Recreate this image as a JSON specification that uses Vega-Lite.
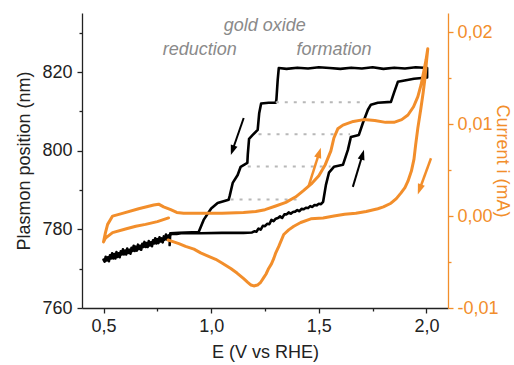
{
  "$schema": "https://vega.github.io/schema/vega-lite/v6.json",
  "width": 366,
  "height": 295,
  "autosize": {"type": "none"},
  "padding": {"left": 82, "top": 13, "right": 66, "bottom": 57},
  "config": {
    "view": {"stroke": null},
    "font": "Liberation Sans",
    "axis": {
      "grid": false,
      "labelFont": "Liberation Sans",
      "titleFont": "Liberation Sans",
      "labelFontSize": 18,
      "titleFontSize": 18,
      "titleFontWeight": "normal",
      "domainColor": "#222222",
      "tickColor": "#222222",
      "labelColor": "#222222",
      "titleColor": "#222222",
      "domainWidth": 1.3,
      "tickWidth": 1.3
    }
  },
  "datasets": {
    "plasmon": [
      {"i": 1, "E": 0.500, "nm": 772.3}, {"i": 2, "E": 0.505, "nm": 771.8}, {"i": 3, "E": 0.510, "nm": 773.0}, {"i": 4, "E": 0.515, "nm": 772.1},
      {"i": 5, "E": 0.520, "nm": 772.9}, {"i": 6, "E": 0.525, "nm": 771.9}, {"i": 7, "E": 0.530, "nm": 773.4}, {"i": 8, "E": 0.535, "nm": 772.6},
      {"i": 9, "E": 0.540, "nm": 773.9}, {"i": 10, "E": 0.545, "nm": 772.6}, {"i": 11, "E": 0.550, "nm": 773.7}, {"i": 12, "E": 0.555, "nm": 772.6},
      {"i": 13, "E": 0.560, "nm": 774.2}, {"i": 14, "E": 0.565, "nm": 773.0}, {"i": 15, "E": 0.570, "nm": 773.9}, {"i": 16, "E": 0.575, "nm": 772.9},
      {"i": 17, "E": 0.580, "nm": 774.4}, {"i": 18, "E": 0.585, "nm": 773.6}, {"i": 19, "E": 0.590, "nm": 774.9}, {"i": 20, "E": 0.595, "nm": 773.6},
      {"i": 21, "E": 0.600, "nm": 774.6}, {"i": 22, "E": 0.605, "nm": 773.6}, {"i": 23, "E": 0.610, "nm": 775.1}, {"i": 24, "E": 0.615, "nm": 774.0},
      {"i": 25, "E": 0.620, "nm": 774.8}, {"i": 26, "E": 0.625, "nm": 773.8}, {"i": 27, "E": 0.630, "nm": 775.3}, {"i": 28, "E": 0.635, "nm": 774.5},
      {"i": 29, "E": 0.640, "nm": 775.8}, {"i": 30, "E": 0.645, "nm": 774.5}, {"i": 31, "E": 0.650, "nm": 775.6}, {"i": 32, "E": 0.655, "nm": 774.6},
      {"i": 33, "E": 0.660, "nm": 776.1}, {"i": 34, "E": 0.665, "nm": 775.0}, {"i": 35, "E": 0.670, "nm": 775.8}, {"i": 36, "E": 0.675, "nm": 774.8},
      {"i": 37, "E": 0.680, "nm": 776.3}, {"i": 38, "E": 0.685, "nm": 775.5}, {"i": 39, "E": 0.690, "nm": 776.8}, {"i": 40, "E": 0.695, "nm": 775.5},
      {"i": 41, "E": 0.700, "nm": 776.5}, {"i": 42, "E": 0.705, "nm": 775.5}, {"i": 43, "E": 0.710, "nm": 777.0}, {"i": 44, "E": 0.715, "nm": 775.9},
      {"i": 45, "E": 0.720, "nm": 776.7}, {"i": 46, "E": 0.725, "nm": 775.7}, {"i": 47, "E": 0.730, "nm": 777.2}, {"i": 48, "E": 0.735, "nm": 776.4},
      {"i": 49, "E": 0.740, "nm": 777.7}, {"i": 50, "E": 0.745, "nm": 776.4}, {"i": 51, "E": 0.750, "nm": 777.5}, {"i": 52, "E": 0.755, "nm": 776.5},
      {"i": 53, "E": 0.760, "nm": 778.0}, {"i": 54, "E": 0.765, "nm": 776.9}, {"i": 55, "E": 0.770, "nm": 777.7}, {"i": 56, "E": 0.775, "nm": 776.7},
      {"i": 57, "E": 0.780, "nm": 778.2}, {"i": 58, "E": 0.785, "nm": 777.4}, {"i": 59, "E": 0.790, "nm": 778.7}, {"i": 60, "E": 0.795, "nm": 777.4},
      {"i": 61, "E": 0.800, "nm": 778.4}, {"i": 62, "E": 0.810, "nm": 778.6}, {"i": 63, "E": 0.820, "nm": 778.9}, {"i": 64, "E": 0.840, "nm": 778.8},
      {"i": 65, "E": 0.860, "nm": 779.0}, {"i": 66, "E": 0.950, "nm": 779.0}, {"i": 67, "E": 1.050, "nm": 779.1}, {"i": 68, "E": 1.150, "nm": 779.1},
      {"i": 69, "E": 1.190, "nm": 779.2}, {"i": 70, "E": 1.200, "nm": 779.5}, {"i": 71, "E": 1.210, "nm": 779.4}, {"i": 72, "E": 1.220, "nm": 780.2},
      {"i": 73, "E": 1.230, "nm": 779.9}, {"i": 74, "E": 1.240, "nm": 780.9}, {"i": 75, "E": 1.250, "nm": 780.8}, {"i": 76, "E": 1.260, "nm": 781.4},
      {"i": 77, "E": 1.270, "nm": 781.3}, {"i": 78, "E": 1.280, "nm": 782.4}, {"i": 79, "E": 1.290, "nm": 782.1}, {"i": 80, "E": 1.300, "nm": 782.7},
      {"i": 81, "E": 1.310, "nm": 782.9}, {"i": 82, "E": 1.320, "nm": 783.3}, {"i": 83, "E": 1.330, "nm": 782.9}, {"i": 84, "E": 1.340, "nm": 783.8},
      {"i": 85, "E": 1.350, "nm": 783.8}, {"i": 86, "E": 1.360, "nm": 784.3}, {"i": 87, "E": 1.370, "nm": 784.0}, {"i": 88, "E": 1.380, "nm": 784.4},
      {"i": 89, "E": 1.390, "nm": 784.5}, {"i": 90, "E": 1.400, "nm": 784.9}, {"i": 91, "E": 1.410, "nm": 784.6}, {"i": 92, "E": 1.420, "nm": 785.2},
      {"i": 93, "E": 1.430, "nm": 785.1}, {"i": 94, "E": 1.440, "nm": 785.5}, {"i": 95, "E": 1.450, "nm": 785.4}, {"i": 96, "E": 1.460, "nm": 785.9},
      {"i": 97, "E": 1.470, "nm": 785.7}, {"i": 98, "E": 1.480, "nm": 786.2}, {"i": 99, "E": 1.490, "nm": 786.1}, {"i": 100, "E": 1.500, "nm": 786.5},
      {"i": 101, "E": 1.510, "nm": 786.4}, {"i": 102, "E": 1.520, "nm": 787.0}, {"i": 103, "E": 1.533, "nm": 791.3}, {"i": 104, "E": 1.547, "nm": 794.4},
      {"i": 105, "E": 1.570, "nm": 795.9}, {"i": 106, "E": 1.612, "nm": 796.4}, {"i": 107, "E": 1.635, "nm": 800.2}, {"i": 108, "E": 1.649, "nm": 803.5},
      {"i": 109, "E": 1.686, "nm": 804.0}, {"i": 110, "E": 1.705, "nm": 807.1}, {"i": 111, "E": 1.728, "nm": 810.4}, {"i": 112, "E": 1.742, "nm": 811.7},
      {"i": 113, "E": 1.774, "nm": 812.2}, {"i": 114, "E": 1.835, "nm": 812.4}, {"i": 115, "E": 1.849, "nm": 814.7}, {"i": 116, "E": 1.867, "nm": 817.5},
      {"i": 117, "E": 1.942, "nm": 818.3}, {"i": 118, "E": 2.003, "nm": 818.6}, {"i": 119, "E": 2.003, "nm": 821.0}, {"i": 120, "E": 1.950, "nm": 821.2},
      {"i": 121, "E": 1.900, "nm": 820.9}, {"i": 122, "E": 1.850, "nm": 821.1}, {"i": 123, "E": 1.800, "nm": 820.8}, {"i": 124, "E": 1.750, "nm": 821.2},
      {"i": 125, "E": 1.700, "nm": 820.9}, {"i": 126, "E": 1.650, "nm": 821.1}, {"i": 127, "E": 1.600, "nm": 820.8}, {"i": 128, "E": 1.550, "nm": 821.0},
      {"i": 129, "E": 1.500, "nm": 821.2}, {"i": 130, "E": 1.450, "nm": 820.9}, {"i": 131, "E": 1.400, "nm": 821.1}, {"i": 132, "E": 1.350, "nm": 820.8},
      {"i": 133, "E": 1.314, "nm": 821.0}, {"i": 134, "E": 1.309, "nm": 818.0}, {"i": 135, "E": 1.303, "nm": 813.0}, {"i": 136, "E": 1.300, "nm": 812.2},
      {"i": 137, "E": 1.267, "nm": 812.2}, {"i": 138, "E": 1.232, "nm": 812.0}, {"i": 139, "E": 1.223, "nm": 809.5}, {"i": 140, "E": 1.216, "nm": 805.3},
      {"i": 141, "E": 1.193, "nm": 804.0}, {"i": 142, "E": 1.176, "nm": 803.0}, {"i": 143, "E": 1.170, "nm": 799.0}, {"i": 144, "E": 1.168, "nm": 796.9},
      {"i": 145, "E": 1.137, "nm": 795.9}, {"i": 146, "E": 1.123, "nm": 793.8}, {"i": 147, "E": 1.100, "nm": 791.8}, {"i": 148, "E": 1.086, "nm": 788.5},
      {"i": 149, "E": 1.081, "nm": 787.5}, {"i": 150, "E": 1.030, "nm": 786.7}, {"i": 151, "E": 1.000, "nm": 785.3}, {"i": 152, "E": 0.965, "nm": 782.4},
      {"i": 153, "E": 0.942, "nm": 779.3}, {"i": 154, "E": 0.850, "nm": 779.1}, {"i": 155, "E": 0.810, "nm": 779.0}, {"i": 156, "E": 0.807, "nm": 776.0}
    ],
    "cv": [
      {"i": 1, "E": 0.802, "I": -0.0002}, {"i": 2, "E": 0.750, "I": -0.0006}, {"i": 3, "E": 0.695, "I": -0.0009}, {"i": 4, "E": 0.650, "I": -0.0011},
      {"i": 5, "E": 0.602, "I": -0.0014}, {"i": 6, "E": 0.542, "I": -0.0018}, {"i": 7, "E": 0.509, "I": -0.0024}, {"i": 8, "E": 0.500, "I": -0.0028},
      {"i": 9, "E": 0.509, "I": -0.0018}, {"i": 10, "E": 0.519, "I": -0.0009}, {"i": 11, "E": 0.542, "I": 0.0000}, {"i": 12, "E": 0.588, "I": 0.0003},
      {"i": 13, "E": 0.663, "I": 0.0008}, {"i": 14, "E": 0.733, "I": 0.0012}, {"i": 15, "E": 0.756, "I": 0.0013}, {"i": 16, "E": 0.779, "I": 0.0010},
      {"i": 17, "E": 0.812, "I": 0.0007}, {"i": 18, "E": 0.840, "I": 0.0004}, {"i": 19, "E": 0.872, "I": 0.0003}, {"i": 20, "E": 0.950, "I": 0.0003},
      {"i": 21, "E": 1.050, "I": 0.0003}, {"i": 22, "E": 1.150, "I": 0.0004}, {"i": 23, "E": 1.207, "I": 0.0005}, {"i": 24, "E": 1.250, "I": 0.0007},
      {"i": 25, "E": 1.300, "I": 0.0011}, {"i": 26, "E": 1.347, "I": 0.0015}, {"i": 27, "E": 1.393, "I": 0.0021}, {"i": 28, "E": 1.430, "I": 0.0028},
      {"i": 29, "E": 1.465, "I": 0.0035}, {"i": 30, "E": 1.500, "I": 0.0044}, {"i": 31, "E": 1.530, "I": 0.0056}, {"i": 32, "E": 1.556, "I": 0.0071},
      {"i": 33, "E": 1.570, "I": 0.0085}, {"i": 34, "E": 1.588, "I": 0.0095}, {"i": 35, "E": 1.612, "I": 0.0099}, {"i": 36, "E": 1.660, "I": 0.0103},
      {"i": 37, "E": 1.709, "I": 0.0105}, {"i": 38, "E": 1.760, "I": 0.0104}, {"i": 39, "E": 1.810, "I": 0.0102}, {"i": 40, "E": 1.849, "I": 0.0102},
      {"i": 41, "E": 1.885, "I": 0.0105}, {"i": 42, "E": 1.914, "I": 0.0110}, {"i": 43, "E": 1.940, "I": 0.0119}, {"i": 44, "E": 1.960, "I": 0.0130},
      {"i": 45, "E": 1.975, "I": 0.0143}, {"i": 46, "E": 1.988, "I": 0.0158}, {"i": 47, "E": 1.998, "I": 0.0170}, {"i": 48, "E": 2.006, "I": 0.0182},
      {"i": 49, "E": 2.000, "I": 0.0168}, {"i": 50, "E": 1.993, "I": 0.0150}, {"i": 51, "E": 1.985, "I": 0.0135}, {"i": 52, "E": 1.974, "I": 0.0117},
      {"i": 53, "E": 1.960, "I": 0.0096}, {"i": 54, "E": 1.950, "I": 0.0078}, {"i": 55, "E": 1.942, "I": 0.0062}, {"i": 56, "E": 1.930, "I": 0.0049},
      {"i": 57, "E": 1.914, "I": 0.0038}, {"i": 58, "E": 1.900, "I": 0.0031}, {"i": 59, "E": 1.881, "I": 0.0025}, {"i": 60, "E": 1.860, "I": 0.0019},
      {"i": 61, "E": 1.835, "I": 0.0014}, {"i": 62, "E": 1.800, "I": 0.0010}, {"i": 63, "E": 1.774, "I": 0.0008}, {"i": 64, "E": 1.720, "I": 0.0005},
      {"i": 65, "E": 1.672, "I": 0.0003}, {"i": 66, "E": 1.620, "I": 0.0002}, {"i": 67, "E": 1.570, "I": 0.0000}, {"i": 68, "E": 1.520, "I": -0.0002},
      {"i": 69, "E": 1.463, "I": -0.0003}, {"i": 70, "E": 1.416, "I": -0.0007}, {"i": 71, "E": 1.384, "I": -0.0011}, {"i": 72, "E": 1.360, "I": -0.0015},
      {"i": 73, "E": 1.337, "I": -0.0020}, {"i": 74, "E": 1.314, "I": -0.0033}, {"i": 75, "E": 1.300, "I": -0.0040}, {"i": 76, "E": 1.291, "I": -0.0046},
      {"i": 77, "E": 1.280, "I": -0.0052}, {"i": 78, "E": 1.267, "I": -0.0057}, {"i": 79, "E": 1.255, "I": -0.0063}, {"i": 80, "E": 1.244, "I": -0.0067},
      {"i": 81, "E": 1.230, "I": -0.0072}, {"i": 82, "E": 1.215, "I": -0.0075}, {"i": 83, "E": 1.198, "I": -0.0076}, {"i": 84, "E": 1.185, "I": -0.0075},
      {"i": 85, "E": 1.170, "I": -0.0072}, {"i": 86, "E": 1.151, "I": -0.0068}, {"i": 87, "E": 1.120, "I": -0.0062}, {"i": 88, "E": 1.091, "I": -0.0057},
      {"i": 89, "E": 1.050, "I": -0.0051}, {"i": 90, "E": 1.021, "I": -0.0047}, {"i": 91, "E": 0.980, "I": -0.0043}, {"i": 92, "E": 0.951, "I": -0.0040},
      {"i": 93, "E": 0.920, "I": -0.0036}, {"i": 94, "E": 0.881, "I": -0.0033}, {"i": 95, "E": 0.850, "I": -0.0030}, {"i": 96, "E": 0.812, "I": -0.0027},
      {"i": 97, "E": 0.800, "I": -0.0026}
    ],
    "levels": [
      {"nm": 812.3, "E1": 1.30, "E2": 1.72},
      {"nm": 804.2, "E1": 1.22, "E2": 1.645},
      {"nm": 796.0, "E1": 1.17, "E2": 1.555},
      {"nm": 787.6, "E1": 1.09, "E2": 1.40}
    ],
    "blackArrows": [
      {"E1": 1.151, "v1": 808.3, "E2": 1.099, "v2": 800.1, "angle": 199},
      {"E1": 1.658, "v1": 790.8, "E2": 1.703, "v2": 799.0, "angle": 16.6}
    ],
    "orangeArrows": [
      {"E1": 1.453, "v1": 0.0033, "E2": 1.502, "v2": 0.0069, "angle": 17.5},
      {"E1": 2.021, "v1": 0.0063, "E2": 1.968, "v2": 0.0029, "angle": 200}
    ],
    "labels": [
      {"E": 1.249, "nm": 831.8, "text": "gold oxide"},
      {"E": 0.947, "nm": 825.6, "text": "reduction"},
      {"E": 1.570, "nm": 825.6, "text": "formation"}
    ]
  },
  "layer": [
    {
      "layer": [
        {
          "data": {"name": "plasmon"},
          "mark": {"type": "line", "color": "#000000", "strokeWidth": 2.6, "strokeJoin": "round", "strokeCap": "round"},
          "encoding": {
            "order": {"field": "i", "type": "quantitative"},
            "x": {
              "field": "E", "type": "quantitative",
              "scale": {"domain": [0.4, 2.1], "nice": false, "zero": false},
              "axis": {
                "values": [0.5, 0.75, 1.0, 1.25, 1.5, 1.75, 2.0],
                "labelExpr": "(datum.value * 2) % 1 !== 0 ? '' : replace(format(datum.value, '.1f'), '.', ',')",
                "tickSize": {"condition": {"test": "(datum.value * 2) % 1 === 0", "value": 5}, "value": 3},
                "labelPadding": 4,
                "title": "E (V vs RHE)",
                "titlePadding": 8
              }
            },
            "y": {
              "field": "nm", "type": "quantitative",
              "scale": {"domain": [760, 835], "nice": false, "zero": false},
              "axis": {
                "orient": "left",
                "values": [760, 770, 780, 790, 800, 810, 820, 830],
                "labelExpr": "datum.value % 20 === 0 ? format(datum.value, 'd') : ''",
                "tickSize": {"condition": {"test": "datum.value % 20 === 0", "value": 5}, "value": 3},
                "labelPadding": 5,
                "title": "Plasmon position (nm)",
                "titlePadding": 8
              }
            }
          }
        },
        {
          "data": {"name": "levels"},
          "mark": {"type": "rule", "color": "#b8b8b8", "strokeWidth": 2, "strokeDash": [3, 6]},
          "encoding": {
            "x": {"field": "E1", "type": "quantitative"},
            "x2": {"field": "E2"},
            "y": {"field": "nm", "type": "quantitative"}
          }
        },
        {
          "data": {"name": "blackArrows"},
          "mark": {"type": "rule", "color": "#000000", "strokeWidth": 2},
          "encoding": {
            "x": {"field": "E1", "type": "quantitative"},
            "x2": {"field": "E2"},
            "y": {"field": "v1", "type": "quantitative"},
            "y2": {"field": "v2"}
          }
        },
        {
          "data": {"name": "blackArrows"},
          "mark": {"type": "point", "shape": "M0,-1L0.7,1L-0.7,1Z", "filled": true, "color": "#000000", "size": 100, "opacity": 1},
          "encoding": {
            "x": {"field": "E2", "type": "quantitative"},
            "y": {"field": "v2", "type": "quantitative"},
            "angle": {"field": "angle", "type": "quantitative", "scale": null}
          }
        },
        {
          "data": {"name": "labels"},
          "mark": {"type": "text", "font": "Liberation Sans", "fontStyle": "italic", "fontSize": 18, "color": "#8a8a8a", "align": "center", "baseline": "middle"},
          "encoding": {
            "x": {"field": "E", "type": "quantitative"},
            "y": {"field": "nm", "type": "quantitative"},
            "text": {"field": "text"}
          }
        }
      ]
    },
    {
      "layer": [
        {
          "data": {"name": "cv"},
          "mark": {"type": "line", "color": "#F28E2B", "strokeWidth": 3, "strokeJoin": "round", "strokeCap": "round"},
          "encoding": {
            "order": {"field": "i", "type": "quantitative"},
            "x": {"field": "E", "type": "quantitative"},
            "y": {
              "field": "I", "type": "quantitative",
              "scale": {"domain": [-0.01, 0.0221], "nice": false, "zero": false},
              "axis": {
                "orient": "right",
                "values": [-0.01, -0.005, 0, 0.005, 0.01, 0.015, 0.02],
                "labelExpr": "abs(datum.value * 100 - round(datum.value * 100)) > 0.01 ? '' : (datum.value < -0.0001 ? '-' : '') + replace(format(abs(datum.value), '.2f'), '.', ',')",
                "tickSize": {"condition": {"test": "abs(datum.value * 100 - round(datum.value * 100)) < 0.01", "value": 5}, "value": 3},
                "labelPadding": 4,
                "domainColor": "#F28E2B",
                "tickColor": "#F28E2B",
                "labelColor": "#F28E2B",
                "titleColor": "#F28E2B",
                "title": "Current i (mA)",
                "titlePadding": -6
              }
            }
          }
        },
        {
          "data": {"name": "orangeArrows"},
          "mark": {"type": "rule", "color": "#F28E2B", "strokeWidth": 2.5},
          "encoding": {
            "x": {"field": "E1", "type": "quantitative"},
            "x2": {"field": "E2"},
            "y": {"field": "v1", "type": "quantitative"},
            "y2": {"field": "v2"}
          }
        },
        {
          "data": {"name": "orangeArrows"},
          "mark": {"type": "point", "shape": "M0,-1L0.7,1L-0.7,1Z", "filled": true, "color": "#F28E2B", "size": 110, "opacity": 1},
          "encoding": {
            "x": {"field": "E2", "type": "quantitative"},
            "y": {"field": "v2", "type": "quantitative"},
            "angle": {"field": "angle", "type": "quantitative", "scale": null}
          }
        }
      ]
    }
  ],
  "resolve": {"scale": {"y": "independent"}}
}
